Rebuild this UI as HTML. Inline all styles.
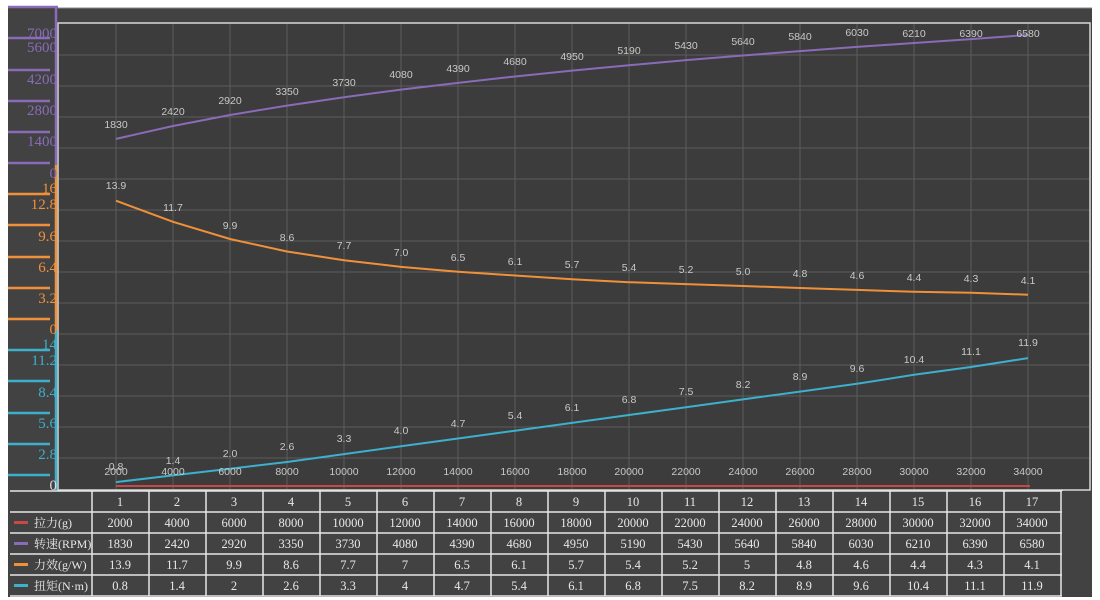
<!DOCTYPE html>
<html><head><meta charset="utf-8"><style>
body{margin:0;background:#fff;width:1100px;height:600px;overflow:hidden}
svg{display:block}
.lbl{font-family:"Liberation Sans",sans-serif;font-size:10.5px;fill:#c8c8c8;text-anchor:middle}
.ax{font-family:"Liberation Serif","Noto Serif CJK SC",serif;font-size:15px;text-anchor:end}
.tb{font-family:"Liberation Serif","Noto Serif CJK SC",serif;font-size:12.5px;fill:#e8e8e8;text-anchor:middle}
.tl{font-family:"Liberation Serif","Noto Serif CJK SC",serif;font-size:12px;fill:#e8e8e8}
</style></head><body>
<svg width="1100" height="600" xmlns="http://www.w3.org/2000/svg">
<rect x="8" y="7" width="1084" height="590" fill="#424242"/>
<rect x="8" y="0" width="1084" height="8" fill="#fff"/>
<line x1="56" y1="8" x2="1092" y2="8" fill="none" stroke="#888" stroke-width="1"/>
<rect x="58" y="23" width="1032" height="467" fill="#3c3c3c" stroke="#d8d8d8" stroke-width="1.5"/>
<g stroke="#5c5c5c" stroke-width="1">
<line x1="59" y1="55" x2="1089" y2="55"/><line x1="59" y1="86" x2="1089" y2="86"/><line x1="59" y1="117" x2="1089" y2="117"/><line x1="59" y1="148" x2="1089" y2="148"/><line x1="59" y1="179" x2="1089" y2="179"/><line x1="59" y1="210" x2="1089" y2="210"/><line x1="59" y1="241" x2="1089" y2="241"/><line x1="59" y1="272" x2="1089" y2="272"/><line x1="59" y1="303" x2="1089" y2="303"/><line x1="59" y1="334" x2="1089" y2="334"/><line x1="59" y1="365" x2="1089" y2="365"/><line x1="59" y1="396" x2="1089" y2="396"/><line x1="59" y1="427" x2="1089" y2="427"/><line x1="59" y1="458" x2="1089" y2="458"/>
<line x1="116" y1="24" x2="116" y2="489"/><line x1="173" y1="24" x2="173" y2="489"/><line x1="230" y1="24" x2="230" y2="489"/><line x1="287" y1="24" x2="287" y2="489"/><line x1="344" y1="24" x2="344" y2="489"/><line x1="401" y1="24" x2="401" y2="489"/><line x1="458" y1="24" x2="458" y2="489"/><line x1="515" y1="24" x2="515" y2="489"/><line x1="572" y1="24" x2="572" y2="489"/><line x1="629" y1="24" x2="629" y2="489"/><line x1="686" y1="24" x2="686" y2="489"/><line x1="743" y1="24" x2="743" y2="489"/><line x1="800" y1="24" x2="800" y2="489"/><line x1="857" y1="24" x2="857" y2="489"/><line x1="914" y1="24" x2="914" y2="489"/><line x1="971" y1="24" x2="971" y2="489"/><line x1="1028" y1="24" x2="1028" y2="489"/>
</g>
<g stroke="#8a6bb8" stroke-width="2.5"><line x1="8" y1="7" x2="58" y2="7"/><line x1="8" y1="38" x2="50" y2="38"/><line x1="8" y1="70" x2="50" y2="70"/><line x1="8" y1="101" x2="50" y2="101"/><line x1="8" y1="132" x2="50" y2="132"/><line x1="8" y1="163" x2="50" y2="163"/><line x1="56" y1="7" x2="56" y2="165"/></g>
<g stroke="#f0913a" stroke-width="2.5"><line x1="8" y1="194" x2="50" y2="194"/><line x1="8" y1="225" x2="50" y2="225"/><line x1="8" y1="257" x2="50" y2="257"/><line x1="8" y1="288" x2="50" y2="288"/><line x1="8" y1="319" x2="50" y2="319"/><line x1="56" y1="165" x2="56" y2="330"/></g>
<g stroke="#3cb0cc" stroke-width="2.5"><line x1="8" y1="350" x2="50" y2="350"/><line x1="8" y1="381" x2="50" y2="381"/><line x1="8" y1="413" x2="50" y2="413"/><line x1="8" y1="444" x2="50" y2="444"/><line x1="8" y1="475" x2="50" y2="475"/><line x1="56" y1="330" x2="56" y2="490"/></g>
<g class="ax" fill="#8a6bb8"><text x="57" y="38">7000</text><text x="57" y="52">5600</text><text x="57" y="84">4200</text><text x="57" y="115">2800</text><text x="57" y="146">1400</text><text x="57" y="178">0</text></g>
<g class="ax" fill="#f0913a"><text x="57" y="193">16</text><text x="57" y="209">12.8</text><text x="57" y="241">9.6</text><text x="57" y="272">6.4</text><text x="57" y="303">3.2</text><text x="57" y="334">0</text></g>
<g class="ax" fill="#3cb0cc"><text x="57" y="349">14</text><text x="57" y="365">11.2</text><text x="57" y="397">8.4</text><text x="57" y="428">5.6</text><text x="57" y="459">2.8</text><text x="57" y="490" fill="#ddd">0</text></g>
<polyline fill="none" stroke="#8a6bb8" stroke-width="2" points="116,138.9 173,126 230,115 287,105.6 344,97.3 401,89.6 458,82.9 515,76.5 572,70.6 629,65.3 686,60.1 743,55.5 800,51.1 857,46.9 914,43 971,39.1 1028,34.9"/>
<polyline fill="none" stroke="#f0913a" stroke-width="2" points="116,200.7 173,221.8 230,239 287,251.5 344,260.2 401,266.9 458,271.7 515,275.5 572,279.3 629,282.2 686,284.1 743,286 800,288 857,289.9 914,291.8 971,292.8 1028,294.7"/>
<polyline fill="none" stroke="#3cb0cc" stroke-width="2" points="116,482.1 173,475.4 230,468.7 287,462 344,454.1 401,446.3 458,438.5 515,430.7 572,422.9 629,415 686,407.2 743,399.4 800,391.6 857,383.8 914,374.8 971,367 1028,358.1"/>
<line x1="116" y1="486" x2="1030" y2="486" stroke="#c84848" stroke-width="2"/>
<g class="lbl">
<text x="116" y="128">1830</text><text x="173" y="115">2420</text><text x="230" y="104">2920</text><text x="287" y="95">3350</text><text x="344" y="86">3730</text><text x="401" y="78">4080</text><text x="458" y="72">4390</text><text x="515" y="65">4680</text><text x="572" y="60">4950</text><text x="629" y="54">5190</text><text x="686" y="49">5430</text><text x="743" y="45">5640</text><text x="800" y="40">5840</text><text x="857" y="36">6030</text><text x="914" y="37">6210</text><text x="971" y="37">6390</text><text x="1028" y="37">6580</text>
<text x="116" y="189">13.9</text><text x="173" y="211">11.7</text><text x="230" y="229">9.9</text><text x="287" y="241">8.6</text><text x="344" y="249">7.7</text><text x="401" y="256">7.0</text><text x="458" y="261">6.5</text><text x="515" y="265">6.1</text><text x="572" y="268">5.7</text><text x="629" y="271">5.4</text><text x="686" y="273">5.2</text><text x="743" y="275">5.0</text><text x="800" y="277">4.8</text><text x="857" y="279">4.6</text><text x="914" y="281">4.4</text><text x="971" y="282">4.3</text><text x="1028" y="284">4.1</text>
<text x="116" y="470">0.8</text><text x="173" y="464">1.4</text><text x="230" y="457">2.0</text><text x="287" y="450">2.6</text><text x="344" y="442">3.3</text><text x="401" y="434">4.0</text><text x="458" y="427">4.7</text><text x="515" y="419">5.4</text><text x="572" y="411">6.1</text><text x="629" y="403">6.8</text><text x="686" y="395">7.5</text><text x="743" y="388">8.2</text><text x="800" y="380">8.9</text><text x="857" y="372">9.6</text><text x="914" y="363">10.4</text><text x="971" y="355">11.1</text><text x="1028" y="346">11.9</text>
<text x="116" y="475">2000</text><text x="173" y="475">4000</text><text x="230" y="475">6000</text><text x="287" y="475">8000</text><text x="344" y="475">10000</text><text x="401" y="475">12000</text><text x="458" y="475">14000</text><text x="515" y="475">16000</text><text x="572" y="475">18000</text><text x="629" y="475">20000</text><text x="686" y="475">22000</text><text x="743" y="475">24000</text><text x="800" y="475">26000</text><text x="857" y="475">28000</text><text x="914" y="475">30000</text><text x="971" y="475">32000</text><text x="1028" y="475">34000</text>
</g>
<g stroke="#e6e6e6" stroke-width="1.5" fill="none">
<line x1="10" y1="491" x2="1063" y2="491"/><line x1="10" y1="512" x2="1063" y2="512"/><line x1="10" y1="533" x2="1063" y2="533"/><line x1="10" y1="554" x2="1063" y2="554"/><line x1="10" y1="575" x2="1063" y2="575"/><line x1="10" y1="596" x2="1063" y2="596"/>
<line x1="92" y1="491" x2="92" y2="596"/><line x1="149" y1="491" x2="149" y2="596"/><line x1="206" y1="491" x2="206" y2="596"/><line x1="263" y1="491" x2="263" y2="596"/><line x1="320" y1="491" x2="320" y2="596"/><line x1="377" y1="491" x2="377" y2="596"/><line x1="434" y1="491" x2="434" y2="596"/><line x1="491" y1="491" x2="491" y2="596"/><line x1="548" y1="491" x2="548" y2="596"/><line x1="605" y1="491" x2="605" y2="596"/><line x1="662" y1="491" x2="662" y2="596"/><line x1="719" y1="491" x2="719" y2="596"/><line x1="776" y1="491" x2="776" y2="596"/><line x1="833" y1="491" x2="833" y2="596"/><line x1="890" y1="491" x2="890" y2="596"/><line x1="947" y1="491" x2="947" y2="596"/><line x1="1004" y1="491" x2="1004" y2="596"/><line x1="1061" y1="491" x2="1061" y2="596"/>
</g>
<rect x="1062" y="491" width="30" height="106" fill="#424242"/>
<rect x="8" y="597" width="1092" height="3" fill="#fff"/>
<rect x="14" y="521" width="14" height="3" fill="#c84848"/><rect x="14" y="542" width="14" height="3" fill="#8a6bb8"/><rect x="14" y="563" width="14" height="3" fill="#f0913a"/><rect x="14" y="584" width="14" height="3" fill="#3cb0cc"/>
<g class="tl"><text x="34" y="527">拉力(g)</text><text x="34" y="548">转速(RPM)</text><text x="34" y="569">力效(g/W)</text><text x="34" y="590">扭矩(N·m)</text></g>
<g class="tb">
<text x="120" y="506">1</text><text x="177" y="506">2</text><text x="234" y="506">3</text><text x="291" y="506">4</text><text x="348" y="506">5</text><text x="405" y="506">6</text><text x="462" y="506">7</text><text x="519" y="506">8</text><text x="576" y="506">9</text><text x="633" y="506">10</text><text x="690" y="506">11</text><text x="747" y="506">12</text><text x="804" y="506">13</text><text x="861" y="506">14</text><text x="918" y="506">15</text><text x="975" y="506">16</text><text x="1032" y="506">17</text>
<text x="120" y="527">2000</text><text x="177" y="527">4000</text><text x="234" y="527">6000</text><text x="291" y="527">8000</text><text x="348" y="527">10000</text><text x="405" y="527">12000</text><text x="462" y="527">14000</text><text x="519" y="527">16000</text><text x="576" y="527">18000</text><text x="633" y="527">20000</text><text x="690" y="527">22000</text><text x="747" y="527">24000</text><text x="804" y="527">26000</text><text x="861" y="527">28000</text><text x="918" y="527">30000</text><text x="975" y="527">32000</text><text x="1032" y="527">34000</text>
<text x="120" y="548">1830</text><text x="177" y="548">2420</text><text x="234" y="548">2920</text><text x="291" y="548">3350</text><text x="348" y="548">3730</text><text x="405" y="548">4080</text><text x="462" y="548">4390</text><text x="519" y="548">4680</text><text x="576" y="548">4950</text><text x="633" y="548">5190</text><text x="690" y="548">5430</text><text x="747" y="548">5640</text><text x="804" y="548">5840</text><text x="861" y="548">6030</text><text x="918" y="548">6210</text><text x="975" y="548">6390</text><text x="1032" y="548">6580</text>
<text x="120" y="569">13.9</text><text x="177" y="569">11.7</text><text x="234" y="569">9.9</text><text x="291" y="569">8.6</text><text x="348" y="569">7.7</text><text x="405" y="569">7</text><text x="462" y="569">6.5</text><text x="519" y="569">6.1</text><text x="576" y="569">5.7</text><text x="633" y="569">5.4</text><text x="690" y="569">5.2</text><text x="747" y="569">5</text><text x="804" y="569">4.8</text><text x="861" y="569">4.6</text><text x="918" y="569">4.4</text><text x="975" y="569">4.3</text><text x="1032" y="569">4.1</text>
<text x="120" y="590">0.8</text><text x="177" y="590">1.4</text><text x="234" y="590">2</text><text x="291" y="590">2.6</text><text x="348" y="590">3.3</text><text x="405" y="590">4</text><text x="462" y="590">4.7</text><text x="519" y="590">5.4</text><text x="576" y="590">6.1</text><text x="633" y="590">6.8</text><text x="690" y="590">7.5</text><text x="747" y="590">8.2</text><text x="804" y="590">8.9</text><text x="861" y="590">9.6</text><text x="918" y="590">10.4</text><text x="975" y="590">11.1</text><text x="1032" y="590">11.9</text>
</g>
</svg>
</body></html>
